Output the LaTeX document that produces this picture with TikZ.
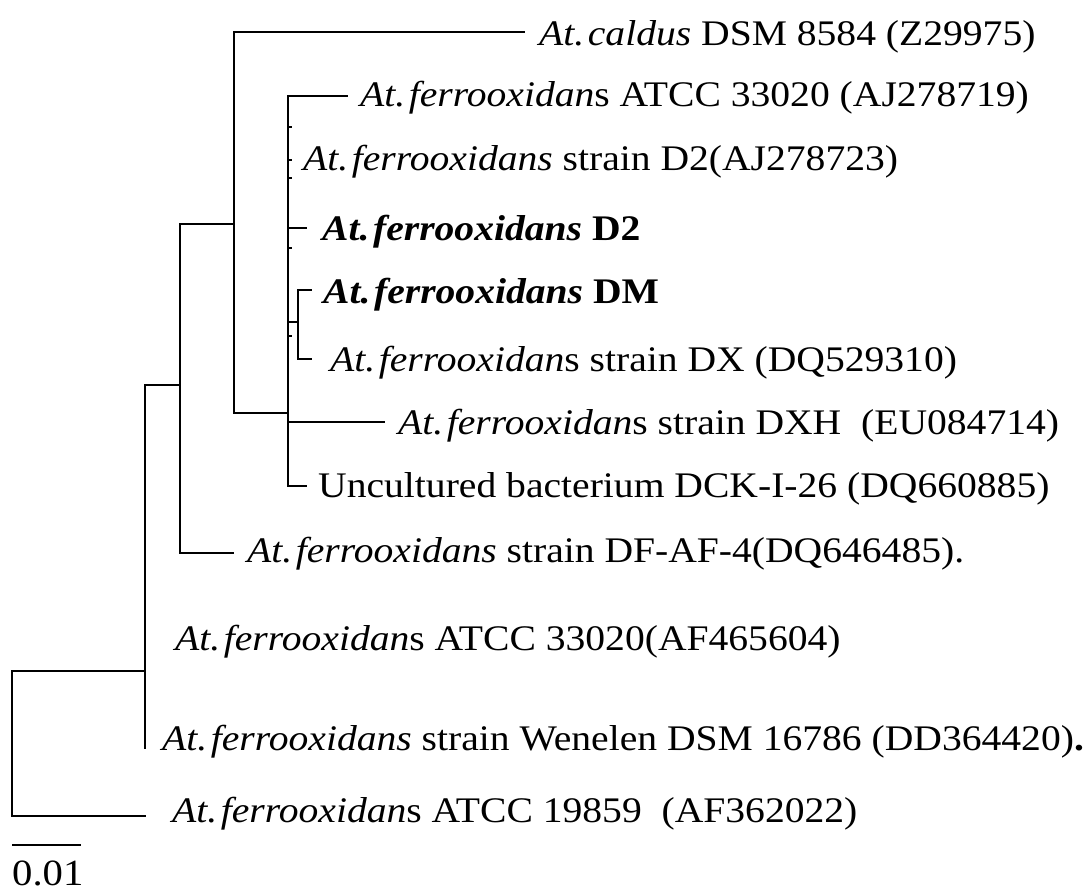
\documentclass[tikz,border=0pt]{standalone}
\usepackage{fontspec}
\setmainfont{Liberation Serif}[FakeStretch=1.1]
\newcommand{\Atf}[1]{\textit{At.\hspace{0.1em}#1}}
\begin{document}
\begin{tikzpicture}[x=1pt,y=-1pt,
  br/.style={line width=2pt},
  tk/.style={line width=1.6pt},
  leaf/.style={anchor=base west, inner sep=0pt, font=\fontsize{36}{40}\selectfont}]
\useasboundingbox (0,0) rectangle (1089,895);
% internal nodes
\coordinate (r)  at (12,743);
\coordinate (n1) at (145,671);
\coordinate (n2) at (180,385);
\coordinate (n3) at (234,224);
\coordinate (n4) at (288,413);
\coordinate (n5) at (298,322);
% branch ends
\coordinate (e1)  at (525,32);
\coordinate (e2)  at (348,96);
\coordinate (e3)  at (288,160);
\coordinate (e4)  at (307,228);
\coordinate (e5)  at (312,290);
\coordinate (e6)  at (312,359);
\coordinate (e7)  at (385,422);
\coordinate (e8)  at (307,486);
\coordinate (e9)  at (234,553);
\coordinate (e10) at (145,634);
\coordinate (e11) at (145,749);
\coordinate (e12) at (146,816);
% branches
\draw[br] (r) |- (n1);
\draw[br] (r) |- (e12);
\draw[br] (n1) |- (n2);
\draw[br] (n1) -- (e10);
\draw[br] (n1) -- (e11);
\draw[br] (n2) |- (n3);
\draw[br] (n2) |- (e9);
\draw[br] (n3) |- (e1);
\draw[br] (n3) |- (n4);
\draw[br] (n4) |- (e2);
\draw[br] (n4) |- (e3);
\draw[br] (n4) |- (e4);
\draw[br] (n5 -| n4) -- (n5);
\draw[br] (n5) |- (e5);
\draw[br] (n5) |- (e6);
\draw[br] (n4) |- (e7);
\draw[br] (n4) |- (e8);
% small zero-length ticks
\foreach \yy in {127,160,178,248,336}{\draw[tk] (288,\yy) -- (292,\yy);}
% leaf labels
\node[leaf] (t1)  at (539,45)  {\Atf{caldus} DSM 8584 (Z29975)};
\node[leaf] (t2)  at (360,106) {\Atf{ferrooxidan}s ATCC 33020 (AJ278719)};
\node[leaf] (t3)  at (303,170) {\Atf{ferrooxidans} strain D2(AJ278723)};
\node[leaf] (t4)  at (322,240) {\textbf{\Atf{ferrooxidans} D2}};
\node[leaf] (t5)  at (323,303) {\textbf{\Atf{ferrooxidans} DM}};
\node[leaf] (t6)  at (330,371) {\Atf{ferrooxidan}s strain DX (DQ529310)};
\node[leaf] (t7)  at (398,434) {\Atf{ferrooxidan}s strain DXH\ \ (EU084714)};
\node[leaf] (t8)  at (318,497) {Uncultured bacterium DCK-I-26 (DQ660885)};
\node[leaf] (t9)  at (247,562) {\Atf{ferrooxidans} strain DF-AF-4(DQ646485).};
\node[leaf] (t10) at (175,650) {\Atf{ferrooxidan}s ATCC 33020(AF465604)};
\node[leaf] (t11) at (162,750) {\Atf{ferrooxidans} strain Wenelen DSM 16786 (DD364420)\textbf{.}};
\node[leaf] (t12) at (172,822) {\Atf{ferrooxidan}s ATCC 19859\ \ (AF362022)};
% scale bar
\coordinate (s1) at (12,845);
\coordinate (s2) at (81,845);
\draw[br] (s1) -- (s2);
\node[leaf, font=\fontsize{37}{40}\selectfont] (sl) at (12,885) {0.01};
\end{tikzpicture}
\end{document}
